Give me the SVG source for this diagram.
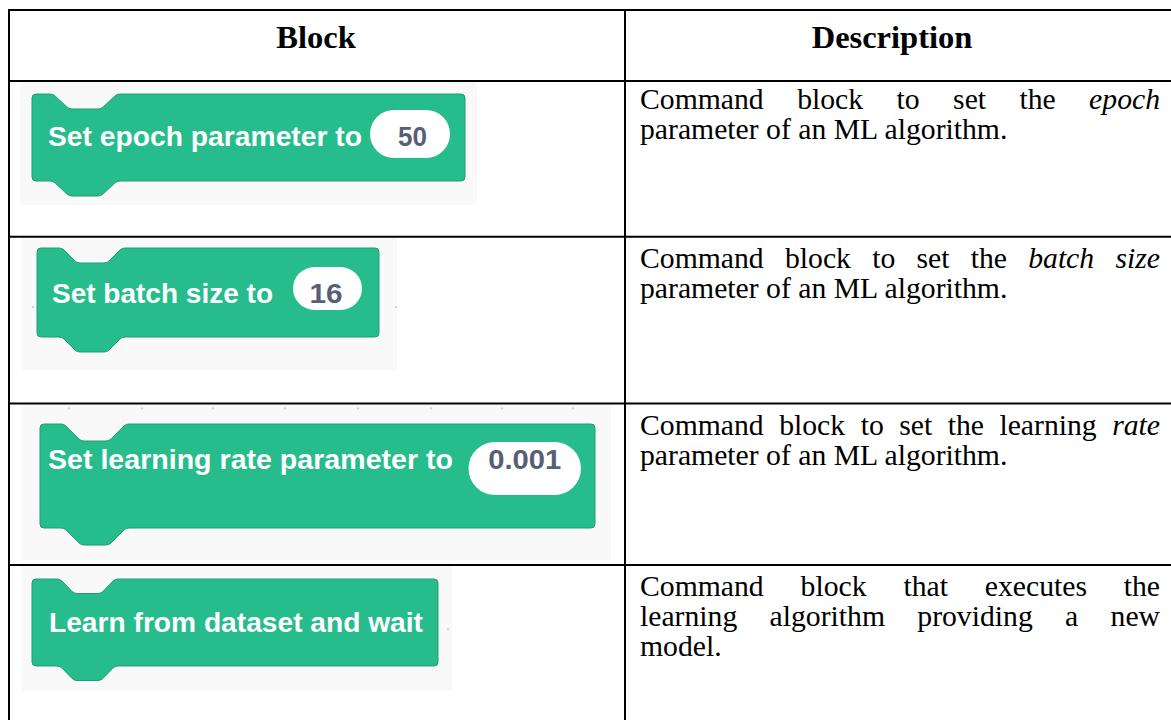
<svg xmlns="http://www.w3.org/2000/svg" width="1171" height="720" viewBox="0 0 1171 720">
  <style>
    .rule { stroke: #000; stroke-width: 2; fill: none; }
    .head { font-family: "Liberation Serif", "Times New Roman", serif; font-weight: bold; font-size: 32.5px; fill: #000; }
    .desc { font-family: "Liberation Serif", "Times New Roman", serif; font-size: 29.7px; fill: #000; }
    .desc .i { font-style: italic; }
    .shot { fill: #f9f9f9; }
    .blk { fill: #26bc8c; stroke: #1f9e76; stroke-width: 1; }
    .lbl { font-family: "Liberation Sans", Arial, Helvetica, sans-serif; font-weight: bold; fill: #ffffff; }
    .pill { fill: #ffffff; }
    .val { font-family: "Liberation Sans", Arial, Helvetica, sans-serif; font-weight: bold; fill: #575e75; text-anchor: middle; }
    .dot { fill: #d4d4d4; }
  </style>

  <rect width="1171" height="720" fill="#ffffff"/>

  <!-- table rules -->
  <g id="table">
    <line class="rule" x1="8" y1="10" x2="1171" y2="10"/>
    <line class="rule" x1="8" y1="81" x2="1171" y2="81"/>
    <line class="rule" x1="8" y1="236.7" x2="1171" y2="236.7"/>
    <line class="rule" x1="8" y1="403.5" x2="1171" y2="403.5"/>
    <line class="rule" x1="8" y1="565" x2="1171" y2="565"/>
    <line class="rule" x1="9" y1="9" x2="9" y2="720"/>
    <line class="rule" x1="625" y1="9" x2="625" y2="720"/>
  </g>

  <!-- header row -->
  <g id="header">
    <text class="head" x="316" y="48" text-anchor="middle">Block</text>
    <text class="head" x="892" y="48" text-anchor="middle">Description</text>
  </g>

  <!-- row 1: epoch -->
  <g id="block-epoch">
    <rect class="shot" x="20" y="82" width="457" height="123"/>
    <path class="blk" d="M36,94 H50 Q53,94 55.2,96.1 L66.8,106.9 Q69,109 72,109 H98 Q101,109 103.2,106.9 L114.8,96.1 Q117,94 120,94 H461 Q465,94 465,98 V177 Q465,181 461,181 H120 Q117,181 114.8,183.1 L103.2,193.9 Q101,196 98,196 H72 Q69,196 66.8,193.9 L55.2,183.1 Q53,181 50,181 H36 Q32,181 32,177 V98 Q32,94 36,94 Z"/>
    <text class="lbl" x="48" y="146" font-size="27" textLength="314" lengthAdjust="spacingAndGlyphs">Set epoch parameter to</text>
    <rect class="pill" x="370" y="110" width="80" height="48" rx="24"/>
    <text class="val" x="412.5" y="146" font-size="27" textLength="29" lengthAdjust="spacingAndGlyphs">50</text>
  </g>
  <g id="desc-epoch" class="desc">
    <text x="640" y="109">Command</text>
    <text x="797.2" y="109">block</text>
    <text x="896.6" y="109">to</text>
    <text x="953.1" y="109">set</text>
    <text x="1019.5" y="109">the</text>
    <text x="1160" y="109" text-anchor="end" class="i">epoch</text>
    <text x="640" y="139">parameter of an ML algorithm.</text>
  </g>

  <!-- row 2: batch size -->
  <g id="block-batch">
    <rect class="shot" x="22" y="238" width="375" height="132"/>
    <circle class="dot" cx="33" cy="307" r="1.2"/>
    <circle class="dot" cx="396" cy="307" r="1.2"/>
    <path class="blk" d="M41,248 H59 Q62,248 64.1,250.1 L74.9,260.9 Q77,263 80,263 H104 Q107,263 109.1,260.9 L119.9,250.1 Q122,248 125,248 H375 Q379,248 379,252 V333 Q379,337 375,337 H125 Q122,337 119.9,339.1 L109.1,349.9 Q107,352 104,352 H80 Q77,352 74.9,349.9 L64.1,339.1 Q62,337 59,337 H41 Q37,337 37,333 V252 Q37,248 41,248 Z"/>
    <text class="lbl" x="52" y="303" font-size="27.5" textLength="221" lengthAdjust="spacingAndGlyphs">Set batch size to</text>
    <rect class="pill" x="293" y="267" width="69" height="43" rx="21.5"/>
    <text class="val" x="326" y="303" font-size="27.5" textLength="33" lengthAdjust="spacingAndGlyphs">16</text>
  </g>
  <g id="desc-batch" class="desc">
    <text x="640" y="268">Command</text>
    <text x="785" y="268">block</text>
    <text x="872.2" y="268">to</text>
    <text x="916.5" y="268">set</text>
    <text x="970.7" y="268">the</text>
    <text x="1028.2" y="268" class="i">batch</text>
    <text x="1160" y="268" text-anchor="end" class="i">size</text>
    <text x="640" y="298">parameter of an ML algorithm.</text>
  </g>

  <!-- row 3: learning rate -->
  <g id="block-rate">
    <rect class="shot" x="22" y="405" width="589" height="155"/>
    <g>
      <circle class="dot" cx="69" cy="408.5" r="1.2"/>
      <circle class="dot" cx="142" cy="408.5" r="1.2"/>
      <circle class="dot" cx="213" cy="408.5" r="1.2"/>
      <circle class="dot" cx="285" cy="408.5" r="1.2"/>
      <circle class="dot" cx="358" cy="408.5" r="1.2"/>
      <circle class="dot" cx="431" cy="408.5" r="1.2"/>
      <circle class="dot" cx="502" cy="408.5" r="1.2"/>
      <circle class="dot" cx="573" cy="408.5" r="1.2"/>
    </g>
    <path class="blk" d="M44,424 H61 Q64,424 66.1,426.1 L78.9,438.9 Q81,441 84,441 H106 Q109,441 111.1,438.9 L123.9,426.1 Q126,424 129,424 H591 Q595,424 595,428 V524 Q595,528 591,528 H129 Q126,528 123.9,530.1 L111.1,542.9 Q109,545 106,545 H84 Q81,545 78.9,542.9 L66.1,530.1 Q64,528 61,528 H44 Q40,528 40,524 V428 Q40,424 44,424 Z"/>
    <text class="lbl" x="48" y="469" font-size="28" textLength="405" lengthAdjust="spacingAndGlyphs">Set learning rate parameter to</text>
    <rect class="pill" x="468.5" y="442" width="112.5" height="53" rx="26.5"/>
    <text class="val" x="524.75" y="469" font-size="28" textLength="73" lengthAdjust="spacingAndGlyphs">0.001</text>
  </g>
  <g id="desc-rate" class="desc">
    <text x="640" y="435">Command</text>
    <text x="779.2" y="435">block</text>
    <text x="860.7" y="435">to</text>
    <text x="899.2" y="435">set</text>
    <text x="947.7" y="435">the</text>
    <text x="999.4" y="435">learning</text>
    <text x="1160" y="435" text-anchor="end" class="i">rate</text>
    <text x="640" y="465">parameter of an ML algorithm.</text>
  </g>

  <!-- row 4: learn -->
  <g id="block-learn">
    <rect class="shot" x="22" y="566" width="430" height="125"/>
    <circle class="dot" cx="448" cy="629" r="1.2"/>
    <path class="blk" d="M36,579 H57 Q60,579 62.1,581.2 L71.9,591.3 Q74,593.5 77,593.5 H98 Q101,593.5 103.1,591.3 L112.9,581.2 Q115,579 118,579 H434 Q438,579 438,583 V662 Q438,666 434,666 H118 Q115,666 112.9,668.2 L103.1,678.3 Q101,680.5 98,680.5 H77 Q74,680.5 71.9,678.3 L62.1,668.2 Q60,666 57,666 H36 Q32,666 32,662 V583 Q32,579 36,579 Z"/>
    <text class="lbl" x="49" y="632" font-size="28" textLength="374" lengthAdjust="spacingAndGlyphs">Learn from dataset and wait</text>
  </g>
  <g id="desc-learn" class="desc">
    <text x="640" y="596">Command</text>
    <text x="800.6" y="596">block</text>
    <text x="903.4" y="596">that</text>
    <text x="984.8" y="596">executes</text>
    <text x="1160" y="596" text-anchor="end">the</text>
    <text x="640" y="626">learning</text>
    <text x="769.6" y="626">algorithm</text>
    <text x="917.3" y="626">providing</text>
    <text x="1065.1" y="626">a</text>
    <text x="1160" y="626" text-anchor="end">new</text>
    <text x="640" y="656">model.</text>
  </g>
</svg>
